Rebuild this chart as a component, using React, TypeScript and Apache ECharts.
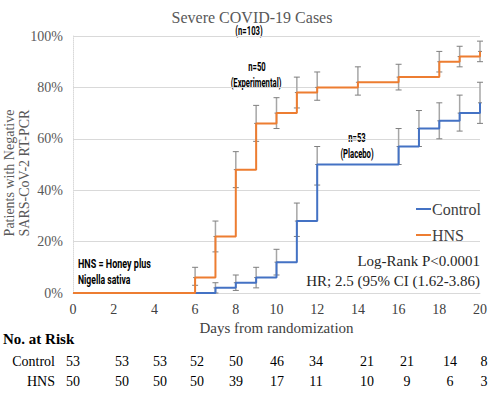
import React, { useEffect, useRef } from "react";
import * as echarts from "echarts";

// Kaplan-Meier style cumulative % with negative RT-PCR
const hnsDays = [0, 6, 7, 8, 9, 10, 11, 12, 14, 16, 18, 19, 20];
const hnsValues = [0, 6, 22, 48, 66, 70, 78, 80, 82, 84, 90, 92, 94];
const hnsLow = [null, 3, 16, 41, 59, 64, 72, 75, 77, 79, 86, 88, 90];
const hnsHigh = [null, 10, 28, 55, 73, 76, 84, 86, 88, 89, 94, 96, 98];

const ctlDays = [0, 7, 8, 9, 10, 11, 12, 16, 17, 18, 19, 20];
const ctlValues = [0, 2, 4, 6, 12, 28, 50, 57, 64, 67, 70, 74];
const ctlLow = [null, 0, 1, 2, 7, 22, 42, 50, 57, 60, 63, 66];
const ctlHigh = [null, 4, 7, 10, 17, 35, 57, 64, 71, 74, 77, 82];

const riskControl = [53, 53, 53, 52, 50, 46, 34, 21, 21, 14, 8];
const riskHNS = [50, 50, 50, 50, 39, 17, 11, 10, 9, 6, 3];

// layout only
const riskX = [73, 122, 160, 197, 236, 277, 316, 367, 407, 450, 484];

const SERIF = "'Liberation Serif', 'Times New Roman', serif";
const NARROW = "Roboto, 'Noto Sans', sans-serif";
const ORANGE = "#ED7D31";
const BLUE = "#4472C4";

function errData(days: number[], vals: number[], low: (number | null)[], high: (number | null)[]) {
  const out: number[][] = [];
  days.forEach((d, i) => {
    if (low[i] != null && high[i] != null) out.push([d, low[i] as number, high[i] as number, vals[i]]);
  });
  return out;
}

function errSeries(name: string, data: number[][]) {
  return {
    type: "custom",
    name,
    silent: true,
    z: 1,
    renderItem: (params: any, api: any) => {
      const x = api.value(0);
      const lo = api.coord([x, api.value(1)]);
      const hi = api.coord([x, api.value(2)]);
      const mid = api.coord([x, api.value(3)]);
      const c = 3;
      const st = { stroke: "#7f7f7f", lineWidth: 1 };
      return {
        type: "group",
        children: [
          { type: "line", shape: { x1: lo[0], y1: lo[1], x2: hi[0], y2: hi[1] }, style: { stroke: "#a6a6a6", lineWidth: 1.5 } },
          { type: "line", shape: { x1: lo[0] - c, y1: lo[1], x2: lo[0] + c, y2: lo[1] }, style: st },
          { type: "line", shape: { x1: hi[0] - c, y1: hi[1], x2: hi[0] + c, y2: hi[1] }, style: st },
          { type: "line", shape: { x1: mid[0] - 2, y1: mid[1], x2: mid[0] + 2, y2: mid[1] }, style: st },
        ],
      };
    },
    data,
  };
}

function narrow(text: string, x: number, y: number, align: string, sx: number) {
  return {
    type: "text",
    x,
    y,
    scaleX: sx,
    style: { text, font: `bold 12px ${NARROW}`, fill: "#000", textAlign: align, textVerticalAlign: "middle" },
  };
}

export default function App() {
  const ref = useRef<HTMLDivElement>(null);
  useEffect(() => {
    if (!ref.current) return;
    const chart = echarts.init(ref.current, undefined, { renderer: "svg" });
    const riskText: any[] = [];
    riskControl.forEach((v, i) => {
      riskText.push({ type: "text", x: riskX[i], y: 361, style: { text: String(v), font: `14px ${SERIF}`, fill: "#000", textAlign: "center", textVerticalAlign: "middle" } });
    });
    riskHNS.forEach((v, i) => {
      riskText.push({ type: "text", x: riskX[i], y: 381, style: { text: String(v), font: `14px ${SERIF}`, fill: "#000", textAlign: "center", textVerticalAlign: "middle" } });
    });
    chart.setOption({
      animation: false,
      title: {
        text: "Severe COVID-19 Cases",
        left: 247,
        top: 4,
        textAlign: "center",
        textStyle: { fontFamily: SERIF, fontSize: 16, fontWeight: "normal", color: "#595959" },
      },
      legend: {
        orient: "vertical",
        left: 411,
        top: 196,
        itemGap: 10,
        itemWidth: 15,
        itemHeight: 2,
        icon: "rect",
        textStyle: { fontFamily: SERIF, fontSize: 16, color: "#404040", padding: [0, 0, 0, -4] },
        data: [
          { name: "Control", itemStyle: { color: BLUE } },
          { name: "HNS", itemStyle: { color: ORANGE } },
        ],
      },
      grid: { left: 73, right: 7, top: 36, bottom: 105, containLabel: false },
      xAxis: {
        type: "value",
        min: 0,
        max: 20,
        interval: 2,
        name: "Days from randomization",
        nameLocation: "middle",
        nameGap: 24,
        nameTextStyle: { fontFamily: SERIF, fontSize: 15, color: "#404040" },
        axisLine: { show: true, lineStyle: { color: "#d9d9d9" } },
        axisTick: { show: false },
        axisLabel: { fontFamily: SERIF, fontSize: 14, color: "#404040", margin: 9 },
        splitLine: { show: false },
      },
      yAxis: {
        type: "value",
        min: 0,
        max: 100,
        interval: 20,
        axisLine: { show: true, lineStyle: { color: "#d9d9d9", type: "dotted" } },
        axisTick: { show: false },
        axisLabel: { fontFamily: SERIF, fontSize: 14, color: "#595959", formatter: "{value}%", margin: 10 },
        splitLine: { show: true, lineStyle: { color: "#d9d9d9" } },
      },
      graphic: [
        { type: "text", x: 17, y: 173, rotation: Math.PI / 2, style: { text: "Patients with Negative\nSARS-CoV-2 RT-PCR", font: `14px ${SERIF}`, fill: "#595959", textAlign: "center", textVerticalAlign: "middle", lineHeight: 15 } },
        narrow("(n=103)", 249, 31, "center", 0.64),
        narrow("n=50", 257, 67, "center", 0.64),
        narrow("(Experimental)", 256, 83, "center", 0.64),
        narrow("n=53", 357, 138, "center", 0.64),
        narrow("(Placebo)", 357, 154, "center", 0.64),
        narrow("HNS = Honey plus", 78, 264, "left", 0.75),
        narrow("Nigella sativa", 78, 280, "left", 0.72),
        { type: "text", x: 480, y: 261, style: { text: "Log-Rank P<0.0001", font: `15px ${SERIF}`, fill: "#262626", textAlign: "right", textVerticalAlign: "middle" } },
        { type: "text", x: 480, y: 281, style: { text: "HR; 2.5 (95% CI (1.62-3.86)", font: `15px ${SERIF}`, fill: "#262626", textAlign: "right", textVerticalAlign: "middle" } },
        { type: "text", x: 3, y: 339, style: { text: "No. at Risk", font: `bold 15px ${SERIF}`, fill: "#000", textAlign: "left", textVerticalAlign: "middle" } },
        { type: "text", x: 55, y: 361, style: { text: "Control", font: `14px ${SERIF}`, fill: "#000", textAlign: "right", textVerticalAlign: "middle" } },
        { type: "text", x: 55, y: 381, style: { text: "HNS", font: `14px ${SERIF}`, fill: "#000", textAlign: "right", textVerticalAlign: "middle" } },
        ...riskText,
      ],
      series: [
        errSeries("ctlErr", errData(ctlDays, ctlValues, ctlLow, ctlHigh)),
        errSeries("hnsErr", errData(hnsDays, hnsValues, hnsLow, hnsHigh)),
        {
          type: "line",
          name: "Control",
          step: "end",
          symbol: "none",
          z: 3,
          lineStyle: { color: BLUE, width: 2 },
          itemStyle: { color: BLUE },
          data: ctlDays.map((d, i) => [d, ctlValues[i]]),
        },
        {
          type: "line",
          name: "HNS",
          step: "end",
          symbol: "none",
          z: 4,
          lineStyle: { color: ORANGE, width: 2 },
          itemStyle: { color: ORANGE },
          data: hnsDays.map((d, i) => [d, hnsValues[i]]),
        },
      ],
    });
    return () => chart.dispose();
  }, []);
  return <div ref={ref} style={{ width: 490, height: 398, position: "absolute", left: 0, top: 0 }} />;
}
